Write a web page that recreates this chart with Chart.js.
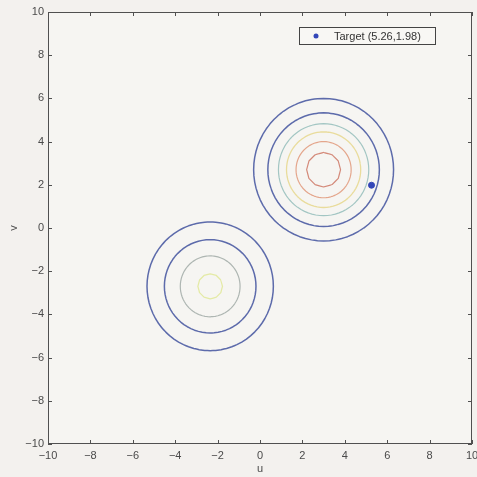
<!DOCTYPE html>
<html><head><meta charset="utf-8">
<script src="https://cdn.jsdelivr.net/npm/chart.js@4/dist/chart.umd.min.js"></script>
<style>html,body{margin:0;padding:0;background:#f3f1ee;}canvas{display:block;}</style>
</head><body>
<canvas id="c" width="477" height="477"></canvas>
<script>
// ---- data ----
const uTicks = [-10, -8, -6, -4, -2, 0, 2, 4, 6, 8, 10];
const vTicks = [-10, -8, -6, -4, -2, 0, 2, 4, 6, 8, 10];
const blobACenter = [3.0, 2.7];
const blobARadii = [3.3, 2.63, 2.13, 1.75, 1.3, 0.8];
const blobBCenter = [-2.35, -2.7];
const blobBRadii = [2.98, 2.16, 1.41, 0.58];
const targetPoint = [5.26, 1.98];
const targetLabel = 'Target (5.26,1.98)';

// ---- styles ----
const blobAColors = ['#5d6bab', '#5d6bab', '#a3c6c3', '#e9dc9c', '#e4a68c', '#d48a7a'];
const blobAWidths = [1.5, 1.5, 1.2, 1.3, 1.2, 1.2];
const blobBColors = ['#5d6bab', '#5d6bab', '#aeb6b2', '#e4eaa6'];
const blobBWidths = [1.5, 1.5, 1.2, 1.3];

function ring(center, r, n) {
  const pts = [];
  for (let i = 0; i <= n; i++) {
    const a = Math.PI / 2 + 2 * Math.PI * i / n;
    pts.push({x: center[0] + r * Math.cos(a), y: center[1] + r * Math.sin(a)});
  }
  return pts;
}

const datasets = [];
blobARadii.forEach((r, i) => datasets.push({
  label: 'A' + i, data: ring(blobACenter, r, r < 1 ? 12 : 72), showLine: true,
  borderColor: blobAColors[i], borderWidth: blobAWidths[i], pointRadius: 0, tension: 0.000001,
  borderCapStyle: 'round', borderJoinStyle: 'round'
}));
blobBRadii.forEach((r, i) => datasets.push({
  label: 'B' + i, data: ring(blobBCenter, r, r < 1 ? 12 : 72), showLine: true,
  borderColor: blobBColors[i], borderWidth: blobBWidths[i], pointRadius: 0, tension: 0.000001,
  borderCapStyle: 'round', borderJoinStyle: 'round'
}));
datasets.push({
  label: targetLabel, data: [{x: targetPoint[0], y: targetPoint[1]}], showLine: false,
  pointRadius: 3, pointBackgroundColor: '#3346b8', pointBorderColor: '#3346b8', isTarget: true
});

const frame = {
  id: 'frame',
  beforeDraw(chart) {
    const {ctx, chartArea: a} = chart;
    ctx.save();
    ctx.fillStyle = '#f3f1ee';
    ctx.fillRect(0, 0, chart.width, chart.height);
    ctx.fillStyle = '#f6f5f2';
    ctx.fillRect(a.left, a.top, a.right - a.left, a.bottom - a.top);
    ctx.restore();
  },
  afterDraw(chart) {
    const {ctx, chartArea: a, scales} = chart;
    ctx.save();
    ctx.strokeStyle = '#505050';
    ctx.lineWidth = 1;
    ctx.strokeRect(a.left + 0.5, a.top + 0.5, a.right - a.left - 1, a.bottom - a.top - 1);
    ctx.beginPath();
    const tl = 4;
    uTicks.forEach(v => {
      const x = Math.round(scales.x.getPixelForValue(v)) + 0.5;
      ctx.moveTo(x, a.bottom); ctx.lineTo(x, a.bottom - tl);
      ctx.moveTo(x, a.top); ctx.lineTo(x, a.top + tl);
    });
    vTicks.forEach(v => {
      const y = Math.round(scales.y.getPixelForValue(v)) + 0.5;
      ctx.moveTo(a.left, y); ctx.lineTo(a.left + tl, y);
      ctx.moveTo(a.right, y); ctx.lineTo(a.right - tl, y);
    });
    ctx.stroke();
    // legend box
    const bx = 299, by = 27, bw = 136, bh = 17;
    ctx.fillStyle = '#f8f7f4';
    ctx.fillRect(bx, by, bw, bh);
    ctx.strokeStyle = '#444';
    ctx.strokeRect(bx + 0.5, by + 0.5, bw, bh);
    const td = chart.data.datasets.find(d => d.isTarget);
    ctx.fillStyle = td.pointBackgroundColor;
    ctx.beginPath(); ctx.arc(bx + 17, by + 9, 2.5, 0, 2 * Math.PI); ctx.fill();
    ctx.fillStyle = '#333';
    ctx.font = '11px "Liberation Sans", Arial, sans-serif';
    ctx.textBaseline = 'middle';
    ctx.fillText(td.label, bx + 35, by + 9.5);
    ctx.restore();
  }
};

const font = {family: '"Liberation Sans", Arial, sans-serif', size: 11};
new Chart(document.getElementById('c'), {
  type: 'scatter',
  data: {datasets},
  options: {
    responsive: false, animation: false,
    layout: {padding: {top: 12, right: 5, left: 0, bottom: 0}},
    plugins: {legend: {display: false}, tooltip: {enabled: false}},
    scales: {
      x: {
        type: 'linear', min: -10, max: 10,
        afterBuildTicks: s => { s.ticks = uTicks.map(v => ({value: v})); },
        afterFit: s => { s.height = 33; s.paddingLeft = 0; s.paddingRight = 0; },
        grid: {display: false, drawTicks: false}, border: {display: false},
        ticks: {color: '#4a4a4a', font, padding: 5, maxRotation: 0,
          callback: v => String(v).replace('-', '\u2212')},
        title: {display: true, text: 'u', color: '#4a4a4a', font, padding: {top: 0, bottom: 1}}
      },
      y: {
        type: 'linear', min: -10, max: 10,
        afterBuildTicks: s => { s.ticks = vTicks.map(v => ({value: v})); },
        afterFit: s => { s.width = 48; s.paddingTop = 0; s.paddingBottom = 0; },
        grid: {display: false, drawTicks: false}, border: {display: false},
        ticks: {color: '#4a4a4a', font, padding: 4,
          callback: v => String(v).replace('-', '\u2212')},
        title: {display: true, text: 'v', color: '#4a4a4a', font, padding: {top: 7, bottom: 0}}
      }
    }
  },
  plugins: [frame]
});
</script>
</body></html>
